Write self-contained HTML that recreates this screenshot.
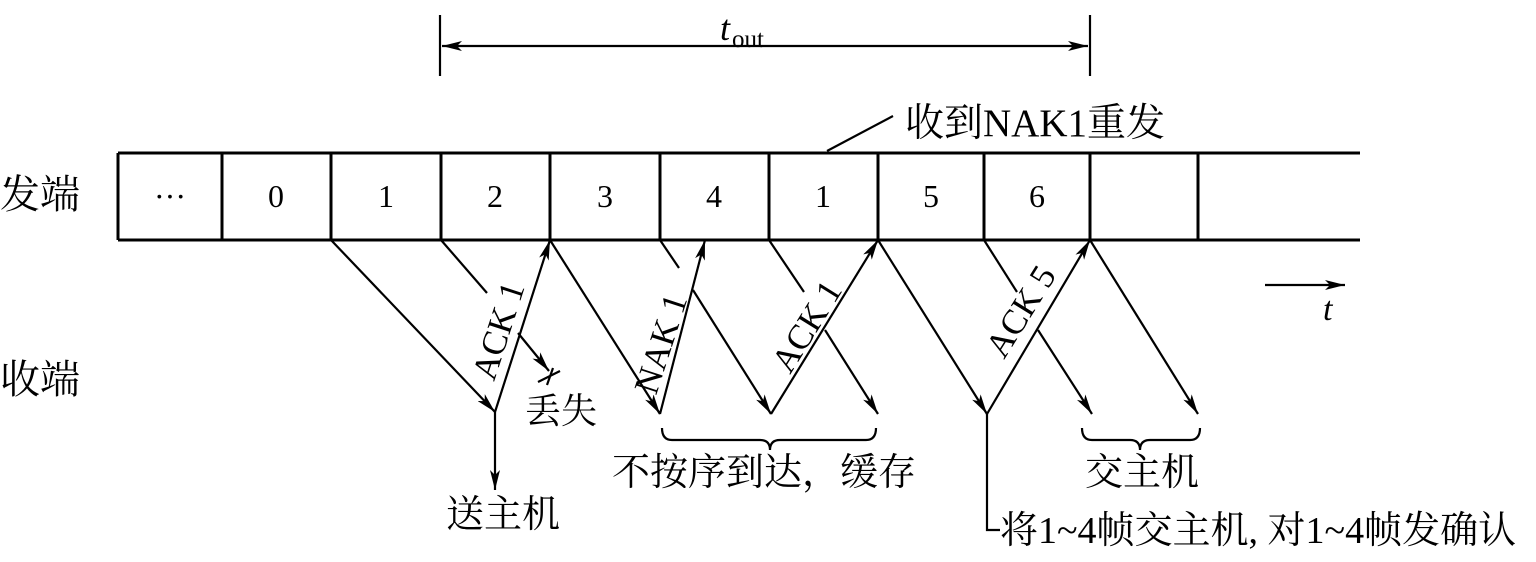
<!DOCTYPE html>
<html><head><meta charset="utf-8"><style>
html,body{margin:0;padding:0;background:#fff;}
svg{display:block}
text{font-family:"Liberation Serif","Noto Serif CJK SC",serif;fill:#000}
</style></head><body>
<svg width="1536" height="562" viewBox="0 0 1536 562" xmlns="http://www.w3.org/2000/svg">
<defs>
<marker id="a" viewBox="0 0 20 10" refX="20" refY="5" markerWidth="20" markerHeight="10" markerUnits="userSpaceOnUse" orient="auto-start-reverse">
<path d="M0,0 L20,5 L0,10 L5,5 Z" fill="#000"/></marker>
</defs>
<g stroke="#000" stroke-width="3" fill="none">
<line x1="118" y1="153" x2="1360" y2="153"/>
<line x1="118" y1="240" x2="1360" y2="240"/>
<line x1="118" y1="153" x2="118" y2="240"/>
<line x1="222" y1="153" x2="222" y2="240"/>
<line x1="331" y1="153" x2="331" y2="240"/>
<line x1="441" y1="153" x2="441" y2="240"/>
<line x1="550" y1="153" x2="550" y2="240"/>
<line x1="660" y1="153" x2="660" y2="240"/>
<line x1="769" y1="153" x2="769" y2="240"/>
<line x1="878" y1="153" x2="878" y2="240"/>
<line x1="984" y1="153" x2="984" y2="240"/>
<line x1="1090" y1="153" x2="1090" y2="240"/>
<line x1="1198" y1="153" x2="1198" y2="240"/>
</g>
<g stroke="#000" stroke-width="2.2" fill="none">
<line x1="440" y1="15" x2="440" y2="76"/>
<line x1="1090" y1="15" x2="1090" y2="76"/>
<line x1="442" y1="46" x2="1088" y2="46" marker-end="url(#a)" marker-start="url(#a)"/>
<line x1="827" y1="151" x2="893" y2="116"/>
<line x1="331" y1="240" x2="495" y2="412" marker-end="url(#a)"/>
<line x1="495" y1="412" x2="495" y2="490" marker-end="url(#a)"/>
<line x1="495" y1="412" x2="550" y2="240" marker-end="url(#a)"/>
<line x1="441" y1="240" x2="487" y2="293"/>
<line x1="518" y1="333" x2="549" y2="371" marker-end="url(#a)"/>
<line x1="538" y1="382" x2="560" y2="371"/>
<line x1="553" y1="368" x2="547" y2="385"/>
<line x1="550" y1="240" x2="660" y2="414" marker-end="url(#a)"/>
<line x1="660" y1="414" x2="705" y2="240" marker-end="url(#a)"/>
<line x1="660" y1="240" x2="679" y2="268"/>
<line x1="693" y1="290" x2="771" y2="414" marker-end="url(#a)"/>
<line x1="771" y1="414" x2="878" y2="240" marker-end="url(#a)"/>
<line x1="769" y1="240" x2="804" y2="292"/>
<line x1="825" y1="330" x2="878" y2="414" marker-end="url(#a)"/>
<line x1="878" y1="240" x2="987" y2="414" marker-end="url(#a)"/>
<line x1="987" y1="414" x2="1090" y2="240" marker-end="url(#a)"/>
<line x1="984" y1="240" x2="1017" y2="292"/>
<line x1="1038" y1="330" x2="1092" y2="414" marker-end="url(#a)"/>
<line x1="1090" y1="240" x2="1198" y2="414" marker-end="url(#a)"/>
<polyline points="987,414 987,530 1000,530"/>
<line x1="1265" y1="285" x2="1345" y2="285" marker-end="url(#a)"/>
<path d="M662,428 Q662,440 672,440 L760,440 Q770,440 770,450 Q770,440 780,440 L866,440 Q876,440 876,428"/>
<path d="M1082,428 Q1082,440 1092,440 L1130,440 Q1140,440 1140,450 Q1140,440 1150,440 L1190,440 Q1200,440 1200,428"/>
</g>
<text x="720" y="40" font-size="36" font-style="italic">t</text>
<text x="732" y="47" font-size="25">out</text>
<text x="905" y="136" font-size="39">收到NAK1重发</text>
<text x="0" y="208" font-size="40">发端</text>
<text x="0" y="393" font-size="40">收端</text>
<g font-size="32" text-anchor="middle">
<text x="170" y="207">···</text>
<text x="276" y="207">0</text>
<text x="386" y="207">1</text>
<text x="495" y="207">2</text>
<text x="605" y="207">3</text>
<text x="714" y="207">4</text>
<text x="823" y="207">1</text>
<text x="931" y="207">5</text>
<text x="1037" y="207">6</text>
</g>
<text x="1323" y="320" font-size="34" font-style="italic">t</text>
<g font-size="35">
<text transform="translate(494,382) rotate(-72)">ACK 1</text>
<text transform="translate(656,396) rotate(-72)">NAK 1</text>
<text transform="translate(790,375) rotate(-58)">ACK 1</text>
<text transform="translate(1004,360) rotate(-58)">ACK 5</text>
</g>
<text x="525" y="423" font-size="36">丢失</text>
<text x="446" y="527" font-size="38">送主机</text>
<text x="612" y="485" font-size="38">不按序到达，缓存</text>
<text x="1085" y="485" font-size="38">交主机</text>
<text x="1000" y="543" font-size="38">将1~4帧交主机, 对1~4帧发确认</text>
</svg>
</body></html>
